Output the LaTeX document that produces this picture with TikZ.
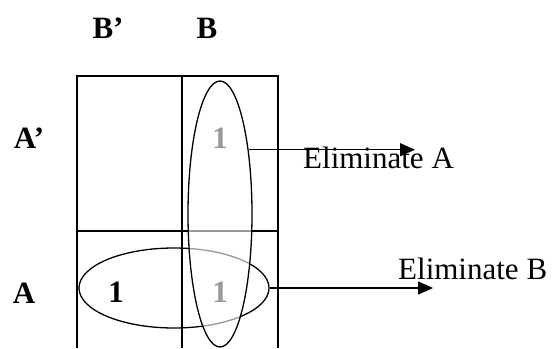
\documentclass[tikz,border=0pt]{standalone}
\usepackage{fontspec}
\setmainfont{Liberation Serif}
\usetikzlibrary{arrows.meta,positioning,shapes.geometric}
\tikzset{
  km/var/.style={font=\bfseries\fontsize{31}{36}\selectfont, inner sep=0, anchor=base},
  km/one/.style={font=\bfseries\fontsize{31}{36}\selectfont, inner sep=0, anchor=base},
  km/note/.style={font=\fontsize{31}{36}\selectfont, inner sep=0, anchor=base west},
  km/grid/.style={line width=1.6pt},
  km/loop/.style={draw, ellipse, line width=1.3pt, inner sep=0},
  km/arr/.style={-{Triangle[length=15pt,width=13pt]}, line width=1.5pt}
}
\begin{document}
\begin{tikzpicture}[x=1pt, y=-1pt]
  \useasboundingbox (0,0) rectangle (554,348);
  % map cells
  \draw[km/grid] (77,348) -- (77,76) -- (278,76) -- (278,348);
  \draw[km/grid] (182,76) -- (182,348);
  \draw[km/grid] (77,231) -- (278,231);
  % variables
  \node[km/var] (bp) at (108,38) {B’};
  \node[km/var] (b) at (207,38) {B};
  \node[km/var] (ap) at (29,148) {A’};
  \node[km/var] (a) at (24,303) {A};
  % minterms
  \node[km/one] (m2) at (116,302) {1};
  \node[km/one] (m1) at (220,148) {1};
  \node[km/one] (m3) at (220,302) {1};
  % groups
  \node[km/loop, minimum width=190pt, minimum height=80pt] (rowA) at (174,288) {};
  \node[km/loop, fill=white, fill opacity=0.6,
        minimum width=64pt, minimum height=266pt] (colB) at (220,214) {};
  % results
  \node[km/note] (elA) at (303,168) {Eliminate A};
  \node[km/note] (elB) at (398,279) {Eliminate B};
  \coordinate (tipA) at (415,151);
  \coordinate (tipB) at (433,288);
  \draw[km/arr] (colB.66) -- (colB.66 -| tipA);
  \draw[km/arr] (rowA.east) -- (tipB);
\end{tikzpicture}
\end{document}
